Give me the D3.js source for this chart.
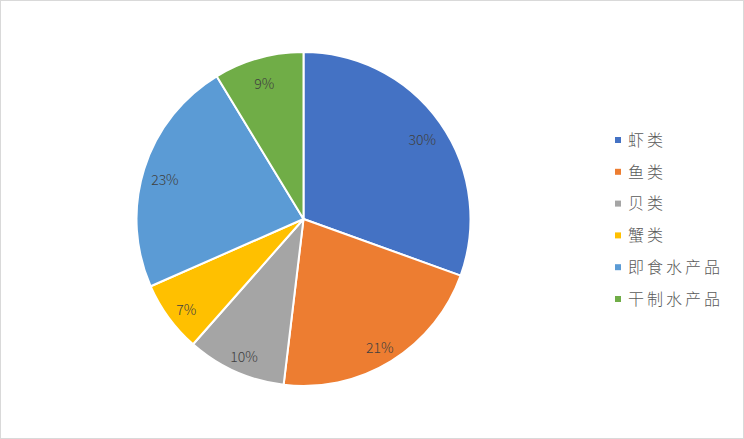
<!DOCTYPE html>
<html><head><meta charset="utf-8">
<script src="https://cdn.jsdelivr.net/npm/d3@7"></script>
<style>body{margin:0;background:#fff}svg{display:block}</style>
</head><body>
<script>
const categories = ["虾类","鱼类","贝类","蟹类","即食水产品","干制水产品"];
const values = [30.5,21.4,9.6,6.9,22.9,8.7];
const labels = ["30%","21%","10%","7%","23%","9%"];
const colors = ["#4472C4","#ED7D31","#A5A5A5","#FFC000","#5B9BD5","#70AD47"];

const W=744,H=439;
const svg=d3.select("body").append("svg").attr("width",W).attr("height",H);
svg.append("rect").attr("x",0.5).attr("y",0.5).attr("width",W-1).attr("height",H-1)
  .attr("fill","#fff").attr("stroke","#d9d9d9");
const cx=303.5,cy=219,r=167;
const pie=d3.pie().sort(null).value(d=>d)(values);
const arc=d3.arc().innerRadius(0).outerRadius(r);
const g=svg.append("g").attr("transform",`translate(${cx},${cy})`);
g.selectAll("path").data(pie).join("path").attr("d",arc)
  .attr("fill",(d,i)=>colors[i]).attr("stroke","#fff").attr("stroke-width",2).attr("stroke-linejoin","round");
const la=d3.arc().innerRadius(r*0.87).outerRadius(r*0.87);
g.selectAll("text").data(pie).join("text")
  .attr("transform",d=>{const [x,y]=la.centroid(d);return `translate(${x},${y+5})`;})
  .attr("text-anchor","middle").attr("dy","0.35em")
  .attr("font-family","'Noto Sans CJK SC',sans-serif").attr("font-size",14).attr("font-weight",300)
  .attr("fill","#404040").text((d,i)=>labels[i]);
const lg=svg.append("g");
categories.forEach((c,i)=>{
  const y=140+i*31.8;
  lg.append("rect").attr("x",615).attr("y",y-3).attr("width",6).attr("height",6).attr("fill",colors[i]);
  lg.append("text").attr("x",628).attr("y",y).attr("dy","0.36em")
    .attr("font-family","'Noto Sans CJK SC',sans-serif").attr("font-size",16).attr("font-weight",300)
    .attr("letter-spacing","3px").attr("fill","#595959").text(c);
});
</script>
</body></html>
